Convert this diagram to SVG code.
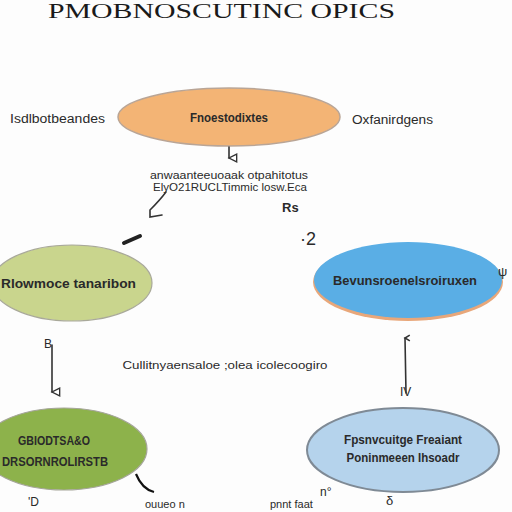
<svg xmlns="http://www.w3.org/2000/svg" width="512" height="512" viewBox="0 0 512 512">
<style>
.t{font-family:"Liberation Sans",Arial,sans-serif;fill:#2a2a2a}
.b{font-weight:bold}
.c{text-anchor:middle}
.ln{fill:none;stroke:#333;stroke-width:1.6;stroke-linecap:round}
</style>
<defs>
<marker id="ah" viewBox="0 0 10 10" refX="5" refY="9" markerWidth="6" markerHeight="8" orient="auto">
<path d="M1,1 L5,9 L9,1 Z" fill="#fff" stroke="#333" stroke-width="1.4"/>
</marker>
<marker id="up" viewBox="0 0 10 10" refX="5" refY="1" markerWidth="6" markerHeight="8" orient="auto-start-reverse">
<path d="M2,6 L5,1 L8,6" fill="none" stroke="#333" stroke-width="1.6"/>
</marker>
</defs>
<rect width="512" height="512" fill="#fdfdfd"/>
<text x="48" y="18" font-family="Liberation Serif,serif" font-size="20" fill="#1a1a1a" textLength="347" lengthAdjust="spacingAndGlyphs">PMOBNOSCUTINC OPICS</text>

<g id="node-top">
<ellipse cx="229" cy="117" rx="111" ry="29" fill="#f3b475" stroke="#b9a596" stroke-width="1.5"/>
<text class="t b c" x="229" y="122" font-size="12" textLength="78" lengthAdjust="spacingAndGlyphs">Fnoestodixtes</text>
</g>
<text class="t" x="10" y="123" font-size="12" textLength="95" lengthAdjust="spacingAndGlyphs">Isdlbotbeandes</text>
<text class="t" x="352" y="124" font-size="12" textLength="81" lengthAdjust="spacingAndGlyphs">Oxfanirdgens</text>

<g id="node-left">
<ellipse cx="72" cy="283" rx="80" ry="38" fill="#c9d58d" stroke="#a9a99a" stroke-width="1.2"/>
<text class="t b" x="1" y="288" font-size="13" textLength="135" lengthAdjust="spacingAndGlyphs">Rlowmoce tanaribon</text>
</g>
<g id="node-right">
<ellipse cx="408" cy="282" rx="95" ry="39" fill="#e8a77a"/>
<ellipse cx="408" cy="280" rx="94" ry="38" fill="#5aaee5"/>
<text class="t b c" x="405" y="285" font-size="12" textLength="144" lengthAdjust="spacingAndGlyphs">Bevunsroenelsroiruxen</text>
</g>
<g id="node-bottom-left">
<ellipse cx="64" cy="449" rx="83" ry="41" fill="#8db24b" stroke="#a5a59a" stroke-width="1.2"/>
<text class="t b c" x="54" y="445" font-size="13" textLength="72" lengthAdjust="spacingAndGlyphs">GBIODTSA&amp;O</text>
<text class="t b c" x="55" y="466" font-size="13" textLength="106" lengthAdjust="spacingAndGlyphs">DRSORNROLIRSTB</text>
</g>
<g id="node-bottom-right">
<ellipse cx="403" cy="450" rx="96" ry="42" fill="#b5d3ec" stroke="#7f8a95" stroke-width="2"/>
<text class="t b c" x="403" y="444" font-size="12" textLength="118" lengthAdjust="spacingAndGlyphs">Fpsnvcuitge Freaiant</text>
<text class="t b c" x="403" y="462" font-size="12" textLength="113" lengthAdjust="spacingAndGlyphs">Poninmeeen Ihsoadr</text>
</g>

<g id="labels">
<text class="t c" x="229" y="179" font-size="11" textLength="158" lengthAdjust="spacingAndGlyphs">anwaanteeuoaak otpahitotus</text>
<text class="t c" x="230" y="191" font-size="11" textLength="154" lengthAdjust="spacingAndGlyphs">ElyO21RUCLTimmic losw.Eca</text>
<text class="t c" x="225" y="369" font-size="11" textLength="205" lengthAdjust="spacingAndGlyphs">Cullitnyaensaloe ;olea icolecoogiro</text>
<text class="t" x="300" y="245" font-size="18">·2</text>
<text class="t" x="498" y="276" font-size="13">ψ</text>
<text class="t" x="282" y="212" font-size="13" font-weight="bold">Rs</text>
<text class="t" x="145" y="508" font-size="11">ouueo n</text>
<text class="t" x="270" y="508" font-size="11">pnnt faat</text>
<text class="t" x="320" y="496" font-size="12">n°</text>
<text class="t" x="28" y="506" font-size="12">'D</text>
<text class="t" x="386" y="505" font-size="13">δ</text>
<text class="t" x="44" y="348" font-size="12">B</text>
<text class="t" x="400" y="396" font-size="12">IV</text>
</g>

<g id="connectors">
<path class="ln" d="M229,147 L229,158" marker-end="url(#ah)"/>
<path class="ln" d="M166,192 C160,200 155,205 150,210 L150,217 L162,215" />
<path d="M124,243 L140,236" stroke="#222" stroke-width="4" stroke-linecap="round"/>
<path class="ln" d="M52,345 L52,392" marker-end="url(#ah)"/>
<path class="ln" d="M406,393 L405,338" stroke-width="2" marker-end="url(#up)"/>
<path d="M136,474 C140,484 146,490 154,492" fill="none" stroke="#111" stroke-width="2.2"/>
</g>
</svg>
